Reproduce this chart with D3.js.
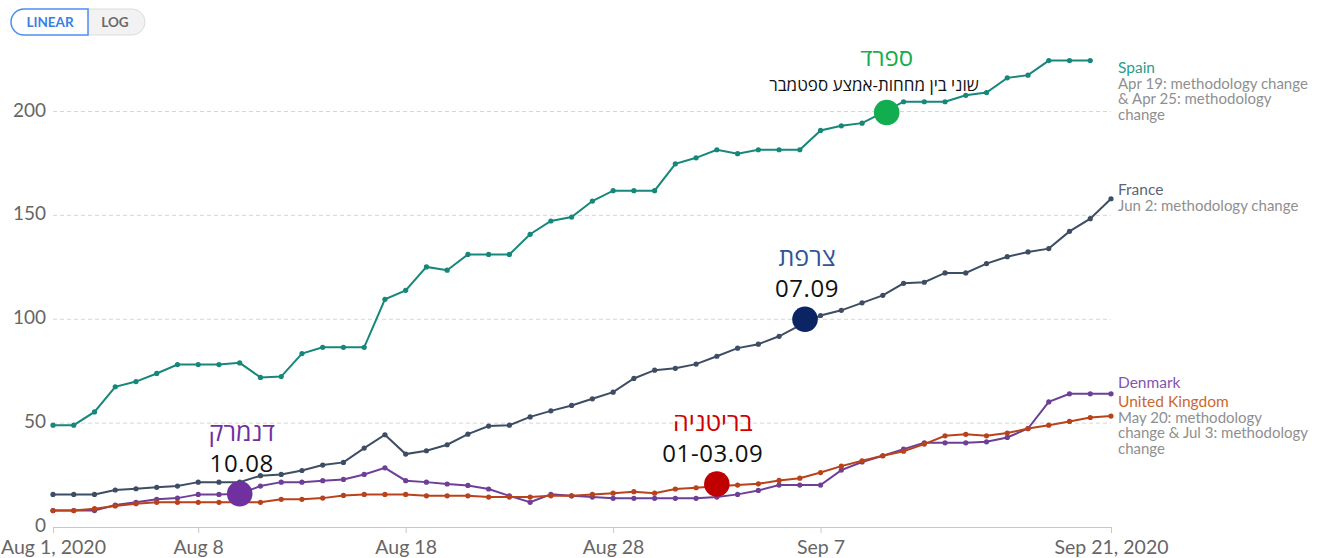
<!DOCTYPE html>
<html lang="en">
<head>
<meta charset="UTF-8">
<title>Positive rate</title>
<script src="https://d3js.org/d3.v7.min.js"></script>
<style>
  body { margin: 0; background: #fff; }
  svg text { font-family: Lato, "Open Sans", sans-serif; }
  .heb { font-family: "Open Sans", "DejaVu Sans", sans-serif; }
</style>
</head>
<body>
<div id="chart"></div>
<script>
// daily values, first value is Aug 1 2020
const startDate = "2020-08-01";
const spain = [49, 49, 55.4, 67.5, 70, 73.9, 78.2, 78.2, 78.2, 79, 72, 72.4, 83.5, 86.5, 86.5, 86.5,
  109.6, 113.9, 125.2, 123.6, 131.2, 131.2, 131.2, 140.9, 147.3, 149.2, 156.9, 161.9, 161.9, 161.9,
  174.8, 177.7, 181.6, 179.7, 181.6, 181.6, 181.6, 190.9, 193.1, 194.4, 199.5, 204.7, 204.7, 204.7,
  207.8, 209.1, 216.2, 217.5, 224.5, 224.5, 224.5];
const france = [15.7, 15.7, 15.7, 17.8, 18.4, 19.1, 19.7, 21.6, 21.6, 21.6, 24.7, 25.3, 27.2, 29.8,
  31.1, 38, 44.4, 35.1, 36.7, 39.6, 44.7, 48.6, 49, 53, 55.9, 58.5, 61.7, 64.9, 71.5, 75.5, 76.4,
  78.4, 82.2, 86.1, 88, 91.8, 97, 101.8, 104.3, 107.9, 111.5, 117.3, 117.8, 122.3, 122.3, 126.8,
  130.1, 132.4, 134, 142.3, 148.4, 158];
const denmark = [7.9, 7.9, 7.9, 10.6, 11.9, 13.3, 13.9, 15.7, 15.7, 16, 19.7, 21.6, 21.6, 22.3, 22.9,
  25.3, 28.5, 22.3, 21.6, 20.7, 20, 18.3, 15, 11.9, 15.7, 15, 14.4, 13.8, 13.8, 13.8, 13.8, 13.8,
  14.4, 15.7, 17.6, 20.2, 20.2, 20.2, 27.4, 31.3, 34.3, 37.5, 40.5, 40.5, 40.5, 41, 43.1, 47.4,
  60.2, 64.1, 64.1, 64.1];
const uk = [7.9, 7.9, 8.8, 10.1, 11.2, 11.9, 11.9, 11.9, 11.9, 11.9, 11.9, 13.3, 13.3, 13.9, 15.2,
  15.7, 15.7, 15.7, 15, 15, 15, 14.4, 14.4, 14.4, 15, 15, 15.7, 16.3, 17, 16.3, 18.3, 18.9, 19.6,
  20.2, 20.8, 22.4, 23.5, 26.2, 29.3, 31.9, 34.3, 36.5, 39.9, 43.9, 44.6, 43.9, 45.2, 47.4, 49,
  50.8, 52.7, 53.4];

const yTicks = [0, 50, 100, 150, 200];
const xTickDates = ["2020-08-01", "2020-08-08", "2020-08-18", "2020-08-28", "2020-09-07", "2020-09-21"];
const xTickLabels = ["Aug 1, 2020", "Aug 8", "Aug 18", "Aug 28", "Sep 7", "Sep 21, 2020"];

const seriesNames = ["Spain", "France", "Denmark", "United Kingdom"];
const seriesValues = [spain, france, denmark, uk];
const lineColors = ["#16877a", "#3e4d64", "#6e3f96", "#b9421a"];
const labelColors = ["#2a9d8f", "#5b6678", "#8455b0", "#c9682f"];

// annotations (hebrew) with the big dots
const annDates = ["2020-09-10T04:30", "2020-09-06T06:00", "2020-09-02T00:00", "2020-08-10T00:00"];
const annValues = [199.5, 100, 20.7, 16];
const annTitles = ["ספרד", "צרפת", "בריטניה", "דנמרק"];
const annSubs = ["שוני בין מחחות-אמצע ספטמבר", "07.09", "01-03.09", "10.08"];
const annColors = ["#12ad4f", "#0b2463", "#c00000", "#7030a0"];
const annTitleColors = ["#12ad4f", "#2f5597", "#d00000", "#7030a0"];

const w = 1321, h = 558;
const x0 = 53, x1 = 1111, yBottom = 527, yTop = 111.5;

const parse = d3.isoParse;
const dates = d3.timeDay.range(parse(startDate), d3.timeDay.offset(parse(startDate), 52));

const xScale = d3.scaleTime()
  .domain([parse("2020-08-01"), parse("2020-09-21")])
  .range([x0, x1]);
const yScale = d3.scaleLinear()
  .domain([0, 200])
  .range([yBottom, yTop]);

const svg = d3.select("#chart").append("svg")
  .attr("width", w)
  .attr("height", h);

// LINEAR / LOG toggle
const btn = svg.append("g");
btn.append("path")
  .attr("d", "M88,9 H132 a13,13 0 0 1 0,26 H88 Z")
  .attr("fill", "#f2f2f2").attr("stroke", "#dcdcdc");
btn.append("path")
  .attr("d", "M88,9 H24 a13,13 0 0 0 0,26 H88 Z")
  .attr("fill", "#fff").attr("stroke", "#4d8ef0").attr("stroke-width", 1.5);
btn.append("text").attr("x", 50).attr("y", 27).attr("text-anchor", "middle")
  .style("font-size", "13.5px").style("font-weight", "700").attr("fill", "#3b7fe6")
  .text("LINEAR");
btn.append("text").attr("x", 115).attr("y", 27).attr("text-anchor", "middle")
  .style("font-size", "13.5px").style("font-weight", "700").attr("fill", "#6a6a6a")
  .text("LOG");

// gridlines
svg.append("g")
  .selectAll("line")
  .data(yTicks.filter(d => d > 0))
  .enter()
  .append("line")
  .attr("x1", x0).attr("x2", x1)
  .attr("y1", d => yScale(d)).attr("y2", d => yScale(d))
  .attr("stroke", "#d6d6d6")
  .attr("stroke-dasharray", "4,3");

// y axis labels
const yAxis = d3.axisLeft(yScale).tickValues(yTicks).tickSize(0).tickPadding(0);
svg.append("g")
  .attr("transform", "translate(46,-1.5)")
  .call(yAxis)
  .call(g => g.select(".domain").remove())
  .call(g => g.selectAll("text")
    .attr("fill", "#666").style("font-size", "19px").style("font-family", "Lato"));

// x axis
const xAxis = d3.axisBottom(xScale)
  .tickValues(xTickDates.map(parse))
  .tickFormat((d, i) => xTickLabels[i])
  .tickSizeOuter(0)
  .tickSize(6)
  .tickPadding(7);
svg.append("g")
  .attr("transform", "translate(0," + yBottom + ")")
  .call(xAxis)
  .call(g => g.select(".domain").attr("stroke", "#c8c8c8"))
  .call(g => g.selectAll(".tick line").attr("stroke", "#c8c8c8"))
  .call(g => g.selectAll("text")
    .attr("fill", "#666").style("font-size", "19.5px").style("font-family", "Lato"));

// lines and points
const line = d3.line()
  .x((d, i) => xScale(dates[i]))
  .y(d => yScale(d));

seriesValues.forEach((vals, s) => {
  const g = svg.append("g");
  g.append("path")
    .datum(vals)
    .attr("d", line)
    .attr("fill", "none")
    .attr("stroke", lineColors[s])
    .attr("stroke-width", 2);
  g.selectAll("circle")
    .data(vals)
    .enter()
    .append("circle")
    .attr("cx", (d, i) => xScale(dates[i]))
    .attr("cy", d => yScale(d))
    .attr("r", 2.6)
    .attr("fill", lineColors[s]);
});

// right side labels
const labels = svg.append("g").attr("transform", "translate(1118,0)");
function labelBlock(y, name, color, notes) {
  labels.append("text").attr("x", 0).attr("y", y)
    .attr("fill", color).style("font-size", "15.5px")
    .text(name);
  notes.forEach((t, i) => {
    labels.append("text").attr("x", 0).attr("y", y + 15.7 * (i + 1))
      .attr("fill", "#8f8f8f").style("font-size", "15px")
      .text(t);
  });
}
labelBlock(73, seriesNames[0], labelColors[0],
  ["Apr 19: methodology change", "& Apr 25: methodology", "change"]);
labelBlock(195, seriesNames[1], labelColors[1], ["Jun 2: methodology change"]);
labelBlock(388, seriesNames[2], labelColors[2], []);
labelBlock(407, seriesNames[3], labelColors[3],
  ["May 20: methodology", "change & Jul 3: methodology", "change"]);

// annotations
const ann = svg.append("g");
annDates.forEach((d, i) => {
  const cx = xScale(parse(d));
  const cy = yScale(annValues[i]);
  ann.append("circle")
    .attr("cx", cx).attr("cy", cy).attr("r", 12.8)
    .attr("fill", annColors[i]);
});
// Spain
ann.append("text").attr("class", "heb")
  .attr("x", xScale(parse(annDates[0]))).attr("y", 66)
  .attr("text-anchor", "middle").attr("fill", annTitleColors[0])
  .style("font-size", "24px").text(annTitles[0]);
ann.append("text").attr("class", "heb")
  .attr("x", 874).attr("y", 91)
  .attr("text-anchor", "middle").attr("fill", "#111")
  .style("font-size", "17px").text(annSubs[0]);
// France, UK, Denmark
[1, 2, 3].forEach(i => {
  const cx = xScale(parse(annDates[i])) + (i === 2 ? -4 : 2);
  const cy = yScale(annValues[i]);
  ann.append("text").attr("class", "heb")
    .attr("x", cx).attr("y", cy - 53)
    .attr("text-anchor", "middle").attr("fill", annTitleColors[i])
    .style("font-size", "25px").text(annTitles[i]);
  ann.append("text").attr("class", "heb")
    .attr("x", cx).attr("y", cy - 22)
    .attr("text-anchor", "middle").attr("fill", "#111")
    .style("font-size", "24px").style("letter-spacing", "0.6px").text(annSubs[i]);
});
</script>
</body>
</html>
